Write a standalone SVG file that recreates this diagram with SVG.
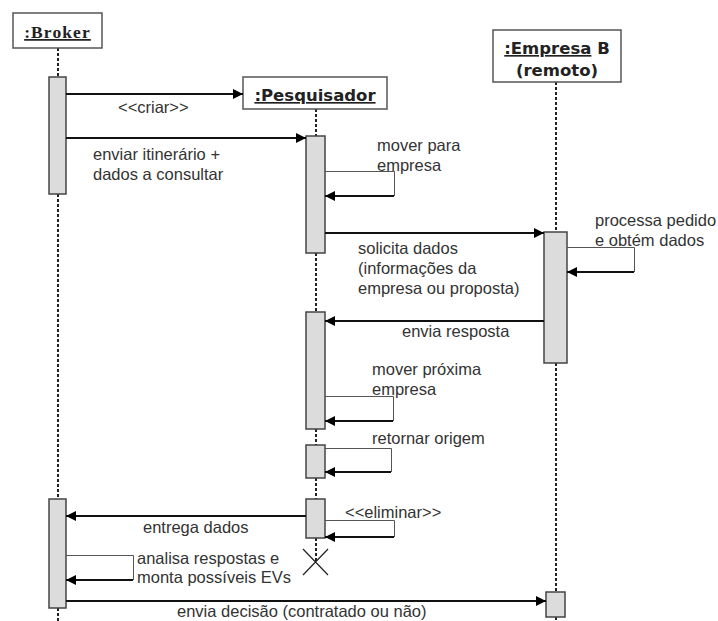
<svg xmlns="http://www.w3.org/2000/svg" width="718" height="621" viewBox="0 0 718 621">
  <defs>
    <marker id="arrow" markerUnits="userSpaceOnUse" markerWidth="12" markerHeight="12" viewBox="0 0 12 12" refX="11" refY="6" orient="auto">
      <path d="M1,1 L11,6 L1,11 Z" fill="#000"/>
    </marker>
  </defs>
  <style>
    .head { fill: #fff; stroke: #555; stroke-width: 1.5; }
    .act { fill: #dcdcdc; stroke: #444; stroke-width: 1.5; }
    .life { stroke: #222; stroke-width: 2; stroke-dasharray: 3 2; fill: none; }
    .msg { stroke: #111; stroke-width: 2; fill: none; marker-end: url(#arrow); }
    .loop { stroke: #555; stroke-width: 1; fill: none; }
    .lbl { font-family: "Liberation Sans", Arial, sans-serif; font-size: 16.5px; fill: #333; }
    .hdr { font-family: "DejaVu Sans", Verdana, sans-serif; font-weight: bold; font-size: 16.5px; fill: #222; }
  </style>
  <rect width="718" height="621" fill="#fff"/>

  <!-- lifelines -->
  <g id="lifelines">
    <path class="life" d="M58,48 V77 M58,194 V499 M58,608 V621"/>
    <path class="life" d="M316,109 V136 M316,253 V312 M316,429 V445 M316,478 V499 M316,538 V562"/>
    <path class="life" d="M556,82 V232 M556,363 V592 M556,617 V621"/>
  </g>

  <!-- participants -->
  <g id="broker">
    <rect class="head" x="13" y="13" width="89" height="35"/>
    <text x="57.5" y="38" text-anchor="middle" font-family="'Liberation Serif', 'Times New Roman', serif" font-weight="bold" font-size="17.5" letter-spacing="1.1" fill="#222" text-decoration="underline">:Broker</text>
    <rect class="act" x="49" y="77" width="17" height="117"/>
    <rect class="act" x="49" y="499" width="17" height="109"/>
  </g>

  <g id="pesquisador">
    <rect class="head" x="243" y="77" width="144" height="32"/>
    <text class="hdr" x="315" y="101" text-anchor="middle" text-decoration="underline">:Pesquisador</text>
    <rect class="act" x="306" y="136" width="19" height="117"/>
    <rect class="act" x="306" y="312" width="19" height="117"/>
    <rect class="act" x="306" y="445" width="19" height="33"/>
    <rect class="act" x="306" y="499" width="19" height="39"/>
    <path d="M303,549 L328,575 M328,549 L303,575" stroke="#222" stroke-width="1.2" fill="none"/>
  </g>

  <g id="empresa">
    <rect class="head" x="493" y="30" width="128" height="52"/>
    <text class="hdr" x="557" y="54" text-anchor="middle"><tspan text-decoration="underline">:Empresa</tspan> B</text>
    <text class="hdr" x="557" y="76" text-anchor="middle">(remoto)</text>
    <rect class="act" x="544" y="232" width="23" height="131"/>
    <rect class="act" x="546" y="592" width="19" height="25"/>
  </g>

  <!-- messages -->
  <g id="connectors">
    <line class="msg" x1="66" y1="94" x2="243" y2="94"/>
    <line class="msg" x1="66" y1="138" x2="306" y2="138"/>
    <line class="msg" x1="325" y1="233" x2="544" y2="233"/>
    <line class="msg" x1="544" y1="321" x2="325" y2="321"/>
    <line class="msg" x1="306" y1="516" x2="66" y2="516"/>
    <line class="msg" x1="66" y1="601" x2="546" y2="601"/>

    <!-- self calls -->
    <path class="loop" d="M325,171.5 H394.5 V196"/>
    <line class="msg" x1="394" y1="196" x2="325" y2="196"/>
    <path class="loop" d="M567,247.5 H634.5 V272"/>
    <line class="msg" x1="634" y1="272" x2="567" y2="272"/>
    <path class="loop" d="M325,396.5 H393.5 V421"/>
    <line class="msg" x1="393" y1="421" x2="325" y2="421"/>
    <path class="loop" d="M325,448.5 H391.5 V472"/>
    <line class="msg" x1="391" y1="472" x2="325" y2="472"/>
    <path class="loop" d="M325,520.5 H394.5 V537"/>
    <line class="msg" x1="394" y1="537" x2="325" y2="537"/>
    <path class="loop" d="M66,555.5 H133.5 V580"/>
    <line class="msg" x1="133" y1="580" x2="66" y2="580"/>
  </g>

  <!-- message labels -->
  <g id="labels">
    <text class="lbl" x="118" y="113">&lt;&lt;criar&gt;&gt;</text>
    <text class="lbl" x="93" y="160">enviar itinerário +</text>
    <text class="lbl" x="93" y="180">dados a consultar</text>
    <text class="lbl" x="377" y="151">mover para</text>
    <text class="lbl" x="377" y="171">empresa</text>
    <text class="lbl" x="358" y="254">solicita dados</text>
    <text class="lbl" x="358" y="274">(informações da</text>
    <text class="lbl" x="358" y="294">empresa ou proposta)</text>
    <text class="lbl" x="595" y="226">processa pedido</text>
    <text class="lbl" x="595" y="246">e obtém dados</text>
    <text class="lbl" x="402" y="337">envia resposta</text>
    <text class="lbl" x="372" y="375">mover próxima</text>
    <text class="lbl" x="372" y="395">empresa</text>
    <text class="lbl" x="372" y="444">retornar origem</text>
    <text class="lbl" x="345" y="518">&lt;&lt;eliminar&gt;&gt;</text>
    <text class="lbl" x="143" y="533">entrega dados</text>
    <text class="lbl" x="137" y="564">analisa respostas e</text>
    <text class="lbl" x="137" y="583">monta possíveis EVs</text>
    <text class="lbl" x="177" y="617">envia decisão (contratado ou não)</text>
  </g>
</svg>
